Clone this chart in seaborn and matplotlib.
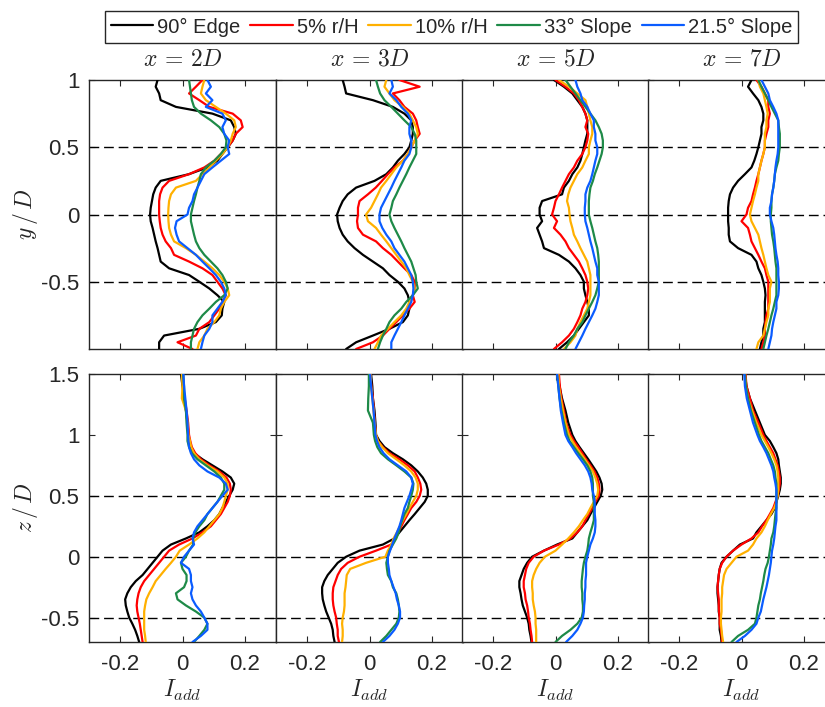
import numpy as np
import pandas as pd
import matplotlib
matplotlib.use("Agg")
import matplotlib.pyplot as plt
from matplotlib.lines import Line2D
import seaborn as sns

# ---------------------------------------------------------------------------
# Measurement stations (profile coordinates)
# ---------------------------------------------------------------------------
Y_POS = np.round(np.linspace(1.0, -1.0, 41), 2)          # lateral profiles, y/D
Z_POS = [1.5, 1.4, 1.3, 1.2, 1.1, 1.0, 0.95, 0.9, 0.85, 0.8, 0.75, 0.7, 0.65,
         0.6, 0.55, 0.5, 0.45, 0.4, 0.35, 0.3, 0.25, 0.2, 0.15, 0.1, 0.05, 0.0,
         -0.05, -0.1, -0.15, -0.2, -0.25, -0.3, -0.35, -0.4, -0.45, -0.5,
         -0.55, -0.6, -0.65, -0.7]                          # vertical profiles, z/D

SERIES = ["90° Edge", "5% r/H", "10% r/H", "33° Slope", "21.5° Slope"]
COLORS = ["#000000", "#FF0000", "#FFB000", "#1E8A48", "#0A5CFF"]
STATIONS = ["2D", "3D", "5D", "7D"]

# ---------------------------------------------------------------------------
# Added turbulence intensity I_add, lateral profiles (y/D)
# ---------------------------------------------------------------------------
edge90_y_2D = [-0.080, -0.086, -0.075, -0.070, -0.021, 0.096, 0.155, 0.166, 0.171, 0.161, 0.145,
               0.128, 0.112, 0.080, 0.021, -0.070, -0.086, -0.094, -0.098, -0.102, -0.104, -0.102,
               -0.096, -0.091, -0.086, -0.080, -0.075, -0.070, -0.043, 0.021, 0.054, 0.086, 0.112,
               0.134, 0.128, 0.126, 0.107, 0.054, -0.059, -0.075, -0.075]
r5_y_2D = [0.064, 0.043, 0.021, 0.054, 0.086, 0.161, 0.187, 0.193, 0.171, 0.161, 0.145, 0.123,
           0.102, 0.070, 0.021, -0.043, -0.064, -0.072, -0.075, -0.075, -0.075, -0.073, -0.070,
           -0.064, -0.054, -0.037, -0.027, 0.021, 0.064, 0.096, 0.112, 0.128, 0.139, 0.128, 0.118,
           0.102, 0.086, 0.054, 0.043, -0.016, 0.032]
r10_y_2D = [0.070, 0.064, 0.059, 0.075, 0.107, 0.139, 0.166, 0.171, 0.161, 0.155, 0.145, 0.128,
            0.107, 0.086, 0.064, 0.043, -0.021, -0.037, -0.043, -0.045, -0.046, -0.045, -0.043,
            -0.037, -0.027, 0.011, 0.043, 0.070, 0.096, 0.118, 0.134, 0.145, 0.150, 0.134, 0.123,
            0.118, 0.102, 0.080, 0.070, 0.054, 0.048]
slope33_y_2D = [0.021, 0.024, 0.027, 0.030, 0.037, 0.059, 0.091, 0.118, 0.134, 0.141, 0.139, 0.123,
                0.102, 0.075, 0.059, 0.054, 0.048, 0.043, 0.037, 0.032, 0.027, 0.027, 0.032, 0.037,
                0.043, 0.054, 0.070, 0.091, 0.112, 0.128, 0.139, 0.145, 0.134, 0.107, 0.086, 0.064,
                0.048, 0.037, 0.032, 0.027, 0.027]
slope215_y_2D = [0.080, 0.091, 0.075, 0.096, 0.075, 0.128, 0.139, 0.128, 0.134, 0.150, 0.145, 0.150,
                 0.123, 0.096, 0.070, 0.059, 0.048, 0.037, 0.032, 0.021, 0.016, -0.019, -0.024,
                 -0.019, -0.011, 0.016, 0.043, 0.064, 0.086, 0.107, 0.123, 0.134, 0.139, 0.128, 0.112,
                 0.096, 0.096, 0.086, 0.070, 0.064, 0.059]

edge90_y_3D = [-0.086, -0.080, -0.075, 0.011, 0.075, 0.112, 0.134, 0.139, 0.139, 0.134, 0.128,
               0.112, 0.091, 0.075, 0.054, 0.016, -0.043, -0.070, -0.086, -0.096, -0.104, -0.102,
               -0.096, -0.086, -0.070, -0.048, -0.021, 0.011, 0.043, 0.064, 0.091, 0.112, 0.123,
               0.128, 0.128, 0.123, 0.107, 0.064, 0.011, -0.043, -0.075]
r5_y_3D = [0.096, 0.161, 0.075, 0.096, 0.112, 0.139, 0.150, 0.155, 0.161, 0.145, 0.134, 0.123,
           0.107, 0.080, 0.059, 0.040, 0.020, -0.005, -0.032, -0.037, -0.037, -0.040, -0.037,
           -0.021, 0.021, 0.043, 0.070, 0.091, 0.112, 0.134, 0.145, 0.145, 0.139, 0.145, 0.128,
           0.107, 0.086, 0.064, 0.043, 0.011, -0.043]
r10_y_3D = [0.054, 0.048, 0.064, 0.080, 0.107, 0.128, 0.139, 0.150, 0.155, 0.145, 0.134, 0.123,
            0.107, 0.086, 0.070, 0.054, 0.037, 0.027, 0.016, 0.005, -0.011, -0.005, 0.021, 0.037,
            0.054, 0.070, 0.086, 0.102, 0.118, 0.128, 0.139, 0.145, 0.139, 0.128, 0.118, 0.102,
            0.080, 0.059, 0.037, 0.027, 0.016]
slope33_y_3D = [0.021, 0.027, 0.034, 0.048, 0.070, 0.091, 0.112, 0.134, 0.145, 0.150, 0.150, 0.150,
                0.139, 0.128, 0.118, 0.107, 0.096, 0.086, 0.075, 0.070, 0.064, 0.070, 0.080, 0.091,
                0.102, 0.112, 0.123, 0.134, 0.141, 0.148, 0.150, 0.155, 0.139, 0.118, 0.102, 0.080,
                0.064, 0.054, 0.043, 0.034, 0.027]
slope215_y_3D = [0.070, 0.075, 0.064, 0.086, 0.102, 0.123, 0.134, 0.128, 0.128, 0.134, 0.134, 0.128,
                 0.112, 0.102, 0.091, 0.080, 0.070, 0.059, 0.048, 0.037, 0.032, 0.032, 0.041, 0.054,
                 0.070, 0.080, 0.096, 0.112, 0.123, 0.134, 0.139, 0.141, 0.139, 0.134, 0.123, 0.112,
                 0.102, 0.091, 0.080, 0.070, 0.070]

edge90_y_5D = [-0.005, 0.027, 0.054, 0.070, 0.086, 0.096, 0.102, 0.102, 0.102, 0.096, 0.091, 0.086,
               0.080, 0.070, 0.054, 0.043, 0.027, 0.021, -0.043, -0.051, -0.051, -0.043, -0.059,
               -0.051, -0.043, -0.037, 0.011, 0.043, 0.064, 0.080, 0.091, 0.091, 0.096, 0.102, 0.107,
               0.107, 0.091, 0.075, 0.059, 0.037, 0.011]
r5_y_5D = [0.000, 0.032, 0.059, 0.075, 0.086, 0.096, 0.102, 0.096, 0.105, 0.102, 0.096, 0.086,
           0.070, 0.059, 0.043, 0.032, 0.021, 0.011, 0.000, -0.005, -0.011, 0.005, -0.005, 0.016,
           0.032, 0.043, 0.059, 0.075, 0.086, 0.096, 0.102, 0.105, 0.102, 0.096, 0.086, 0.080,
           0.070, 0.059, 0.043, 0.021, -0.005]
r10_y_5D = [0.011, 0.043, 0.070, 0.096, 0.102, 0.107, 0.112, 0.118, 0.118, 0.112, 0.107, 0.107,
            0.096, 0.086, 0.070, 0.059, 0.048, 0.041, 0.037, 0.043, 0.045, 0.048, 0.054, 0.059,
            0.070, 0.080, 0.091, 0.102, 0.107, 0.112, 0.112, 0.112, 0.112, 0.107, 0.102, 0.091,
            0.080, 0.070, 0.064, 0.048, 0.027]
slope33_y_5D = [0.032, 0.048, 0.064, 0.080, 0.096, 0.112, 0.128, 0.139, 0.148, 0.152, 0.152, 0.148,
                0.141, 0.134, 0.126, 0.120, 0.112, 0.109, 0.107, 0.107, 0.107, 0.112, 0.118, 0.123,
                0.128, 0.134, 0.137, 0.139, 0.139, 0.139, 0.139, 0.134, 0.128, 0.118, 0.107, 0.096,
                0.086, 0.070, 0.059, 0.043, 0.032]
slope215_y_5D = [0.064, 0.070, 0.080, 0.086, 0.102, 0.112, 0.123, 0.123, 0.128, 0.128, 0.134, 0.134,
                 0.128, 0.123, 0.118, 0.112, 0.102, 0.096, 0.096, 0.094, 0.094, 0.096, 0.102, 0.107,
                 0.112, 0.118, 0.123, 0.128, 0.134, 0.134, 0.139, 0.139, 0.139, 0.134, 0.128, 0.118,
                 0.107, 0.096, 0.086, 0.075, 0.064]

edge90_y_7D = [0.032, 0.021, 0.037, 0.054, 0.064, 0.070, 0.070, 0.064, 0.064, 0.059, 0.054, 0.048,
               0.041, 0.032, 0.011, -0.011, -0.027, -0.037, -0.041, -0.043, -0.043, -0.043, -0.041,
               -0.041, -0.037, -0.011, 0.032, 0.048, 0.054, 0.064, 0.070, 0.075, 0.077, 0.075, 0.075,
               0.075, 0.075, 0.070, 0.070, 0.064, 0.059]
r5_y_7D = [0.048, 0.064, 0.075, 0.086, 0.086, 0.091, 0.086, 0.086, 0.080, 0.075, 0.075, 0.070,
           0.064, 0.059, 0.054, 0.048, 0.043, 0.037, 0.032, 0.021, 0.016, 0.000, 0.021, 0.027,
           0.032, 0.043, 0.054, 0.064, 0.075, 0.080, 0.086, 0.086, 0.086, 0.086, 0.086, 0.080,
           0.077, 0.075, 0.075, 0.070, 0.064]
r10_y_7D = [0.054, 0.059, 0.070, 0.075, 0.080, 0.084, 0.080, 0.080, 0.075, 0.075, 0.075, 0.070,
            0.064, 0.059, 0.054, 0.054, 0.048, 0.043, 0.037, 0.032, 0.027, 0.032, 0.043, 0.054,
            0.059, 0.064, 0.070, 0.075, 0.080, 0.086, 0.096, 0.091, 0.091, 0.091, 0.086, 0.086,
            0.080, 0.075, 0.070, 0.054, 0.048]
slope33_y_7D = [0.054, 0.064, 0.075, 0.086, 0.096, 0.107, 0.118, 0.120, 0.123, 0.123, 0.123, 0.120,
                0.118, 0.112, 0.107, 0.105, 0.102, 0.098, 0.096, 0.096, 0.094, 0.094, 0.096, 0.098,
                0.102, 0.105, 0.107, 0.109, 0.112, 0.112, 0.112, 0.112, 0.112, 0.107, 0.102, 0.096,
                0.091, 0.086, 0.080, 0.075, 0.070]
slope215_y_7D = [0.064, 0.075, 0.086, 0.091, 0.102, 0.112, 0.118, 0.118, 0.118, 0.118, 0.118, 0.116,
                 0.112, 0.109, 0.107, 0.105, 0.102, 0.098, 0.096, 0.091, 0.091, 0.096, 0.102, 0.105,
                 0.107, 0.109, 0.112, 0.116, 0.118, 0.118, 0.120, 0.120, 0.118, 0.112, 0.112, 0.107,
                 0.102, 0.098, 0.096, 0.091, 0.086]

# ---------------------------------------------------------------------------
# Added turbulence intensity I_add, vertical profiles (z/D)
# ---------------------------------------------------------------------------
edge90_z_2D = [-0.005, 0.000, 0.005, 0.011, 0.016, 0.019, 0.021, 0.027, 0.037, 0.064, 0.096, 0.128,
               0.155, 0.166, 0.161, 0.150, 0.139, 0.128, 0.118, 0.102, 0.080, 0.054, 0.011, -0.037,
               -0.064, -0.080, -0.096, -0.112, -0.128, -0.150, -0.166, -0.177, -0.184, -0.182,
               -0.177, -0.171, -0.161, -0.152, -0.145, -0.139]
r5_z_2D = [0.000, 0.002, 0.007, 0.013, 0.018, 0.021, 0.025, 0.030, 0.041, 0.059, 0.086, 0.118,
           0.141, 0.152, 0.155, 0.152, 0.145, 0.134, 0.123, 0.107, 0.091, 0.064, 0.032, -0.011,
           -0.043, -0.059, -0.075, -0.091, -0.107, -0.123, -0.134, -0.141, -0.145, -0.147, -0.145,
           -0.141, -0.137, -0.134, -0.131, -0.128]
r10_z_2D = [-0.002, 0.000, -0.002, 0.011, 0.016, 0.019, 0.024, 0.028, 0.037, 0.054, 0.080, 0.112,
            0.134, 0.145, 0.145, 0.139, 0.134, 0.128, 0.118, 0.102, 0.086, 0.070, 0.048, 0.021,
            -0.009, -0.021, -0.037, -0.054, -0.070, -0.086, -0.096, -0.107, -0.116, -0.120, -0.123,
            -0.123, -0.123, -0.123, -0.120, -0.118]
slope33_z_2D = [0.002, 0.005, 0.005, 0.011, 0.013, 0.016, 0.016, 0.021, 0.030, 0.048, 0.075, 0.102,
                0.123, 0.134, 0.134, 0.123, 0.112, 0.096, 0.080, 0.070, 0.054, 0.041, 0.034, 0.034,
                0.021, 0.011, -0.005, 0.000, 0.013, 0.013, 0.005, -0.021, -0.016, 0.011, 0.043,
                0.070, 0.080, 0.070, 0.054, 0.037]
slope215_z_2D = [0.003, 0.005, 0.009, 0.013, 0.016, 0.018, 0.019, 0.021, 0.027, 0.037, 0.054, 0.080,
                 0.118, 0.139, 0.145, 0.128, 0.112, 0.096, 0.080, 0.064, 0.048, 0.037, 0.032, 0.037,
                 0.021, 0.005, -0.005, 0.021, 0.027, 0.027, 0.032, 0.027, 0.032, 0.043, 0.059,
                 0.070, 0.080, 0.080, 0.059, 0.032]

edge90_z_3D = [0.005, 0.009, 0.011, 0.016, 0.019, 0.021, 0.032, 0.048, 0.075, 0.107, 0.134, 0.155,
               0.171, 0.182, 0.187, 0.187, 0.177, 0.161, 0.145, 0.128, 0.112, 0.096, 0.080, 0.043,
               -0.032, -0.075, -0.102, -0.118, -0.134, -0.145, -0.152, -0.152, -0.150, -0.145,
               -0.139, -0.131, -0.123, -0.118, -0.116, -0.112]
r5_z_3D = [0.003, 0.006, 0.011, 0.014, 0.017, 0.021, 0.027, 0.043, 0.064, 0.096, 0.123, 0.145,
           0.155, 0.163, 0.166, 0.161, 0.150, 0.134, 0.123, 0.112, 0.102, 0.091, 0.080, 0.070,
           0.021, -0.032, -0.070, -0.091, -0.102, -0.109, -0.116, -0.118, -0.118, -0.116, -0.112,
           -0.107, -0.105, -0.102, -0.102, -0.098]
r10_z_3D = [0.003, 0.005, 0.009, 0.013, 0.016, 0.021, 0.027, 0.041, 0.059, 0.086, 0.112, 0.134,
            0.148, 0.155, 0.155, 0.150, 0.139, 0.128, 0.118, 0.107, 0.098, 0.088, 0.077, 0.070,
            0.059, 0.051, -0.011, -0.062, -0.073, -0.075, -0.077, -0.080, -0.080, -0.080, -0.082,
            -0.086, -0.088, -0.086, -0.086, -0.088]
slope33_z_3D = [-0.002, -0.002, -0.004, -0.005, 0.011, 0.014, 0.018, 0.025, 0.037, 0.059, 0.086,
                0.112, 0.134, 0.141, 0.139, 0.134, 0.128, 0.123, 0.112, 0.105, 0.098, 0.094, 0.086,
                0.075, 0.064, 0.059, 0.054, 0.056, 0.059, 0.070, 0.075, 0.086, 0.091, 0.094, 0.096,
                0.094, 0.086, 0.070, 0.054, 0.034]
slope215_z_3D = [0.002, 0.005, 0.009, 0.013, 0.016, 0.019, 0.024, 0.032, 0.045, 0.064, 0.091, 0.118,
                 0.134, 0.139, 0.134, 0.128, 0.120, 0.112, 0.107, 0.102, 0.096, 0.088, 0.080, 0.073,
                 0.066, 0.059, 0.059, 0.062, 0.064, 0.070, 0.077, 0.084, 0.088, 0.094, 0.098, 0.098,
                 0.091, 0.080, 0.064, 0.043]

edge90_z_5D = [0.005, 0.013, 0.021, 0.032, 0.041, 0.054, 0.064, 0.077, 0.091, 0.105, 0.118, 0.131,
               0.141, 0.148, 0.150, 0.145, 0.134, 0.123, 0.112, 0.102, 0.086, 0.070, 0.054, 0.005,
               -0.037, -0.075, -0.091, -0.102, -0.109, -0.116, -0.116, -0.112, -0.109, -0.105,
               -0.098, -0.091, -0.086, -0.084, -0.080, -0.077]
r5_z_5D = [0.011, 0.014, 0.019, 0.027, 0.034, 0.048, 0.059, 0.073, 0.086, 0.098, 0.112, 0.125,
           0.134, 0.139, 0.141, 0.139, 0.128, 0.118, 0.107, 0.096, 0.086, 0.070, 0.048, 0.011,
           -0.037, -0.070, -0.086, -0.094, -0.098, -0.102, -0.102, -0.098, -0.096, -0.091, -0.088,
           -0.086, -0.082, -0.080, -0.077, -0.075]
r10_z_5D = [0.009, 0.011, 0.017, 0.024, 0.032, 0.043, 0.054, 0.066, 0.080, 0.094, 0.107, 0.120,
            0.128, 0.134, 0.137, 0.134, 0.123, 0.112, 0.102, 0.088, 0.075, 0.059, 0.041, 0.021,
            0.000, -0.034, -0.051, -0.062, -0.070, -0.075, -0.075, -0.073, -0.073, -0.070, -0.066,
            -0.064, -0.064, -0.062, -0.062, -0.062]
slope33_z_5D = [0.005, 0.009, 0.013, 0.019, 0.027, 0.037, 0.045, 0.059, 0.073, 0.088, 0.102, 0.112,
                0.118, 0.120, 0.120, 0.120, 0.123, 0.123, 0.123, 0.123, 0.118, 0.112, 0.107, 0.105,
                0.102, 0.096, 0.091, 0.088, 0.086, 0.084, 0.084, 0.086, 0.086, 0.088, 0.088, 0.084,
                0.070, 0.048, 0.021, 0.000]
slope215_z_5D = [0.005, 0.009, 0.013, 0.017, 0.024, 0.032, 0.041, 0.054, 0.066, 0.080, 0.094, 0.105,
                 0.112, 0.116, 0.118, 0.123, 0.126, 0.126, 0.126, 0.128, 0.128, 0.126, 0.120, 0.112,
                 0.107, 0.102, 0.098, 0.098, 0.098, 0.096, 0.096, 0.094, 0.094, 0.092, 0.091, 0.088,
                 0.080, 0.070, 0.054, 0.034]

edge90_z_7D = [0.011, 0.016, 0.027, 0.043, 0.059, 0.075, 0.091, 0.102, 0.112, 0.118, 0.120, 0.123,
               0.126, 0.126, 0.123, 0.118, 0.112, 0.107, 0.096, 0.080, 0.064, 0.048, 0.037, -0.005,
               -0.027, -0.048, -0.064, -0.070, -0.073, -0.075, -0.077, -0.077, -0.075, -0.073,
               -0.073, -0.070, -0.070, -0.070, -0.066, -0.064]
r5_z_7D = [0.013, 0.016, 0.027, 0.037, 0.054, 0.070, 0.080, 0.091, 0.102, 0.109, 0.116, 0.120,
           0.123, 0.123, 0.120, 0.116, 0.109, 0.102, 0.091, 0.080, 0.066, 0.054, 0.032, 0.000,
           -0.027, -0.048, -0.062, -0.070, -0.073, -0.075, -0.077, -0.075, -0.073, -0.073, -0.072,
           -0.070, -0.070, -0.066, -0.064, -0.062]
r10_z_7D = [0.011, 0.014, 0.021, 0.034, 0.048, 0.064, 0.075, 0.086, 0.096, 0.105, 0.112, 0.116,
            0.118, 0.118, 0.118, 0.116, 0.112, 0.105, 0.094, 0.084, 0.075, 0.064, 0.048, 0.037,
            0.021, -0.016, -0.032, -0.048, -0.056, -0.059, -0.062, -0.062, -0.064, -0.064, -0.064,
            -0.066, -0.066, -0.064, -0.062, -0.059]
slope33_z_7D = [0.011, 0.014, 0.021, 0.030, 0.043, 0.056, 0.064, 0.075, 0.086, 0.094, 0.102, 0.107,
                0.109, 0.112, 0.112, 0.112, 0.112, 0.112, 0.109, 0.107, 0.105, 0.102, 0.096, 0.094,
                0.091, 0.088, 0.084, 0.077, 0.073, 0.070, 0.066, 0.062, 0.059, 0.054, 0.051, 0.048,
                0.043, 0.021, -0.011, -0.032]
slope215_z_7D = [0.009, 0.011, 0.017, 0.027, 0.037, 0.051, 0.059, 0.070, 0.080, 0.088, 0.096, 0.102,
                 0.105, 0.109, 0.112, 0.112, 0.112, 0.112, 0.112, 0.112, 0.109, 0.107, 0.105, 0.102,
                 0.098, 0.096, 0.094, 0.091, 0.088, 0.084, 0.080, 0.075, 0.070, 0.066, 0.062, 0.054,
                 0.048, 0.032, 0.011, -0.016]

LATERAL = [
    [edge90_y_2D, r5_y_2D, r10_y_2D, slope33_y_2D, slope215_y_2D],
    [edge90_y_3D, r5_y_3D, r10_y_3D, slope33_y_3D, slope215_y_3D],
    [edge90_y_5D, r5_y_5D, r10_y_5D, slope33_y_5D, slope215_y_5D],
    [edge90_y_7D, r5_y_7D, r10_y_7D, slope33_y_7D, slope215_y_7D],
]
VERTICAL = [
    [edge90_z_2D, r5_z_2D, r10_z_2D, slope33_z_2D, slope215_z_2D],
    [edge90_z_3D, r5_z_3D, r10_z_3D, slope33_z_3D, slope215_z_3D],
    [edge90_z_5D, r5_z_5D, r10_z_5D, slope33_z_5D, slope215_z_5D],
    [edge90_z_7D, r5_z_7D, r10_z_7D, slope33_z_7D, slope215_z_7D],
]

# ---------------------------------------------------------------------------
# Long-form table
# ---------------------------------------------------------------------------
frames = []
for row_key, positions, groups in (("y", Y_POS, LATERAL), ("z", Z_POS, VERTICAL)):
    for station, curves in zip(STATIONS, groups):
        for name, values in zip(SERIES, curves):
            frames.append(pd.DataFrame({"I": values, "pos": positions, "series": name,
                                        "station": station, "row": row_key}))
data = pd.concat(frames, ignore_index=True)

# ---------------------------------------------------------------------------
# Figure
# ---------------------------------------------------------------------------
sns.set_style("ticks")
plt.rcParams.update({
    "font.family": ["Liberation Sans", "DejaVu Sans"],
    "mathtext.fontset": "cm",
    "axes.unicode_minus": False,
    "axes.edgecolor": "#262626",
    "axes.linewidth": 1.0,
    "xtick.color": "#262626",
    "ytick.color": "#262626",
})

W, H = 825, 707
fig = plt.figure(figsize=(W / 100, H / 100), dpi=100)
fig.patch.set_facecolor("white")

lefts = [89, 276, 462, 648]
panel_w = 187
row_box = {"y": (80, 349), "z": (374, 642)}
row_lim = {"y": (-1.0, 1.0), "z": (-0.7, 1.5)}
row_ticks = {"y": [-0.5, 0, 0.5, 1], "z": [-0.5, 0, 0.5, 1, 1.5]}
row_ticklabels = {"y": ["-0.5", "0", "0.5", "1"], "z": ["-0.5", "0", "0.5", "1", "1.5"]}

for row_key, (top, bottom) in row_box.items():
    for i, station in enumerate(STATIONS):
        ax = fig.add_axes([lefts[i] / W, 1 - bottom / H, panel_w / W, (bottom - top) / H])
        sub = data[(data["row"] == row_key) & (data["station"] == station)]
        for level in (-0.5, 0.0, 0.5):
            ax.axhline(level, color="black", ls=(0, (7, 3.5)), lw=1.0, zorder=1)
        sns.lineplot(data=sub, x="I", y="pos", hue="series", hue_order=SERIES,
                     palette=COLORS, sort=False, estimator=None, orient="y",
                     legend=False, lw=1.6, ax=ax, zorder=3)
        ax.set_xlim(-0.3, 0.3)
        ax.set_ylim(*row_lim[row_key])
        ax.set_xlabel("")
        ax.set_ylabel("")
        ax.set_xticks([-0.2, 0, 0.2])
        ax.set_yticks(row_ticks[row_key])
        ax.tick_params(direction="in", top=True, right=True, length=4, width=0.8,
                       labelsize=16, pad=7)
        ax.tick_params(axis="x", pad=9)
        if row_key == "z":
            ax.set_xticklabels(["-0.2", "0", "0.2"])
        else:
            ax.set_xticklabels([])
        if i == 0:
            ax.set_yticklabels(row_ticklabels[row_key])
        else:
            ax.set_yticklabels([])
        for sp in ax.spines.values():
            sp.set_visible(True)

        center_x = (lefts[i] + panel_w / 2) / W
        if row_key == "y":
            fig.text(center_x, 1 - 60 / H, rf"$x\,=\,{station[0]}D$", fontsize=17,
                     ha="center", va="center")
        else:
            fig.text(center_x, 1 - 690 / H, r"$I_{add}$", fontsize=17,
                     ha="center", va="center")

fig.text(25 / W, 1 - 214.5 / H, r"$y\,/\,D$", fontsize=17, rotation=90,
         ha="center", va="center")
fig.text(25 / W, 1 - 508 / H, r"$z\,/\,D$", fontsize=17, rotation=90,
         ha="center", va="center")

handles = [Line2D([0], [0], color=c, lw=1.6) for c in COLORS]
leg = fig.legend(handles, SERIES, loc="center", bbox_to_anchor=(451.5 / W, 1 - 27 / H),
                 ncol=5, frameon=True, fancybox=False, edgecolor="#262626", fontsize=14.5,
                 handlelength=2.1, handletextpad=0.2, columnspacing=0.5, borderpad=0.3,
                 borderaxespad=0)
leg.get_frame().set_linewidth(1.0)
leg.get_frame().set_alpha(1.0)

fig.savefig("out.png", dpi=100, facecolor="white")
